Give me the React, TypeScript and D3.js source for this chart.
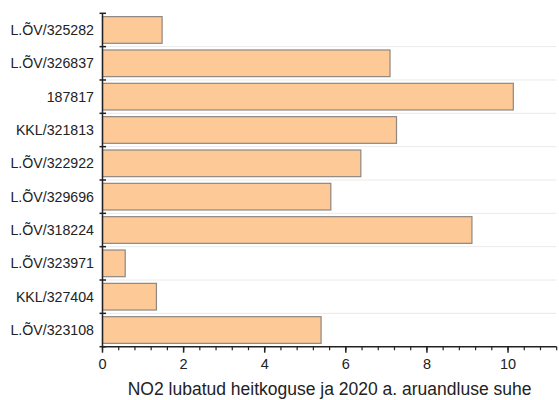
import React, { useEffect, useRef } from 'react';
import * as d3 from 'd3';

// categories top to bottom
const CATEGORIES = [
  'L.ÕV/325282',
  'L.ÕV/326837',
  '187817',
  'KKL/321813',
  'L.ÕV/322922',
  'L.ÕV/329696',
  'L.ÕV/318224',
  'L.ÕV/323971',
  'KKL/327404',
  'L.ÕV/323108',
];
const VALUES = [1.47, 7.09, 10.13, 7.25, 6.37, 5.63, 9.11, 0.56, 1.33, 5.39];
const X_MAJOR_TICKS = [0, 2, 4, 6, 8, 10];
const X_TITLE = 'NO2 lubatud heitkoguse ja 2020 a. aruandluse suhe';

const W = 559;
const H = 400;
const FONT = '"Liberation Sans", Arial, sans-serif';

export default function App() {
  const svgRef = useRef<SVGSVGElement>(null);

  useEffect(() => {
    if (!svgRef.current) return;
    const svg = d3.select(svgRef.current);
    svg.selectAll('*').remove();

    const left = 102.5;
    const right = 556.7;
    const top = 13.3;
    const bottom = 346.7;

    const x = d3.scaleLinear().domain([0, 11.2]).range([left, right]);
    const y = d3.scaleBand<string>()
      .domain(CATEGORIES)
      .range([top, bottom])
      .paddingInner(0.2)
      .paddingOuter(0.1);

    const step = y.step();
    const bounds = d3.range(CATEGORIES.length + 1).map(i => top + i * step);

    // dotted grid at category boundaries
    svg.selectAll('.grid')
      .data(bounds.slice(1, -1))
      .enter().append('line')
      .attr('x1', left).attr('x2', right)
      .attr('y1', d => d).attr('y2', d => d)
      .attr('stroke', '#d4d4d4')
      .attr('stroke-width', 1)
      .attr('stroke-dasharray', '1,1');

    // bars
    svg.selectAll('.bar')
      .data(CATEGORIES)
      .enter().append('rect')
      .attr('x', x(0))
      .attr('y', d => y(d)!)
      .attr('width', (_, i) => x(VALUES[i]) - x(0))
      .attr('height', y.bandwidth())
      .attr('fill', '#fcc997')
      .attr('stroke', '#8e8782')
      .attr('stroke-width', 1.2);

    // y axis
    svg.append('line')
      .attr('x1', left).attr('x2', left)
      .attr('y1', top).attr('y2', bottom)
      .attr('stroke', '#222').attr('stroke-width', 1.5);
    svg.selectAll('.ytick')
      .data(bounds)
      .enter().append('line')
      .attr('x1', left - 3).attr('x2', left + 3.5)
      .attr('y1', d => d).attr('y2', d => d)
      .attr('stroke', '#222').attr('stroke-width', 1.5);
    svg.selectAll('.ylab')
      .data(CATEGORIES)
      .enter().append('text')
      .attr('x', left - 8.5)
      .attr('y', d => y(d)! + y.bandwidth() / 2)
      .attr('dy', '0.35em')
      .attr('text-anchor', 'end')
      .attr('font-family', FONT)
      .attr('font-size', 14.2)
      .attr('fill', '#222')
      .text(d => d);

    // x axis
    svg.append('line')
      .attr('x1', left).attr('x2', right)
      .attr('y1', bottom).attr('y2', bottom)
      .attr('stroke', '#222').attr('stroke-width', 1.5);
    const minor = d3.range(0, 11.2 + 0.001, 0.4);
    svg.selectAll('.xminor')
      .data(minor)
      .enter().append('line')
      .attr('x1', d => x(d)).attr('x2', d => x(d))
      .attr('y1', bottom).attr('y2', bottom + 3.5)
      .attr('stroke', '#222').attr('stroke-width', 1.2);
    svg.selectAll('.xmajor')
      .data(X_MAJOR_TICKS)
      .enter().append('line')
      .attr('x1', d => x(d)).attr('x2', d => x(d))
      .attr('y1', bottom).attr('y2', bottom + 6)
      .attr('stroke', '#222').attr('stroke-width', 1.5);
    svg.selectAll('.xlab')
      .data(X_MAJOR_TICKS)
      .enter().append('text')
      .attr('x', d => x(d))
      .attr('y', 369)
      .attr('text-anchor', 'middle')
      .attr('font-family', FONT)
      .attr('font-size', 14.5)
      .attr('fill', '#222')
      .text(d => d);

    svg.append('text')
      .attr('x', (left + right) / 2)
      .attr('y', 395)
      .attr('text-anchor', 'middle')
      .attr('font-family', FONT)
      .attr('font-size', 17.5)
      .attr('fill', '#222')
      .text(X_TITLE);
  }, []);

  return (
    <svg
      ref={svgRef}
      width={W}
      height={H}
      style={{ position: 'absolute', left: 0, top: 0, background: '#fff' }}
    />
  );
}
